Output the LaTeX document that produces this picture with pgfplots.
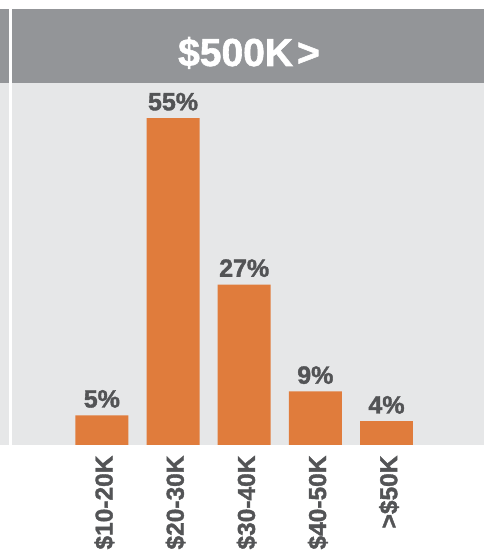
\documentclass[border=0pt]{standalone}
\usepackage{pgfplots}
\pgfplotsset{compat=1.18}
\usepackage{fontspec}
\setmainfont{Liberation Sans}
\newfontfamily\heavy{Liberation Sans Bold}[FakeBold=1.5]
\definecolor{hdr}{HTML}{939598}
\definecolor{bg}{HTML}{E6E7E8}
\definecolor{barc}{HTML}{E07C3C}
\definecolor{txt}{HTML}{535456}
\begin{document}
\begin{tikzpicture}[x=1pt,y=1pt]
\useasboundingbox (0,0) rectangle (487,556);
\fill[hdr] (0,473) rectangle (9,547);
\fill[bg] (0,111) rectangle (9,473);
\fill[hdr] (11.5,473) rectangle (484,547);
\node[text=white, font=\fontsize{39}{39}\selectfont\heavy, anchor=base, inner sep=0pt] at (249,490) {\$500K\hspace{4pt}>};
\begin{axis}[at={(11.5pt,111pt)}, anchor=south west, scale only axis,
  width=472.5pt, height=362pt,
  axis background/.style={fill=bg}, axis line style={draw=none},
  /pgf/number format/assume math mode=true,
  ymin=0, ymax=60.9, xmin=-1.27, xmax=5.37,
  ytick=\empty, xtick=data,
  xticklabels={\$10-20K,\$20-30K,\$30-40K,\$40-50K,>\$50K},
  major tick length=0pt,
  xticklabel style={xshift=2.5pt, yshift=-7pt, rotate=90, anchor=east, text=txt,
    font=\fontsize{24.5}{24.5}\selectfont\heavy},
  ybar, bar width=0.744,
  nodes near coords={\pgfmathprintnumber{\pgfplotspointmeta}\%},
  nodes near coords style={text=txt, font=\fontsize{25}{25}\selectfont\heavy, yshift=4pt},
  clip=false]
\addplot[fill=barc, draw=none] coordinates {(0,5) (1,55) (2,27) (3,9) (4,4)};
\end{axis}
\end{tikzpicture}
\end{document}
